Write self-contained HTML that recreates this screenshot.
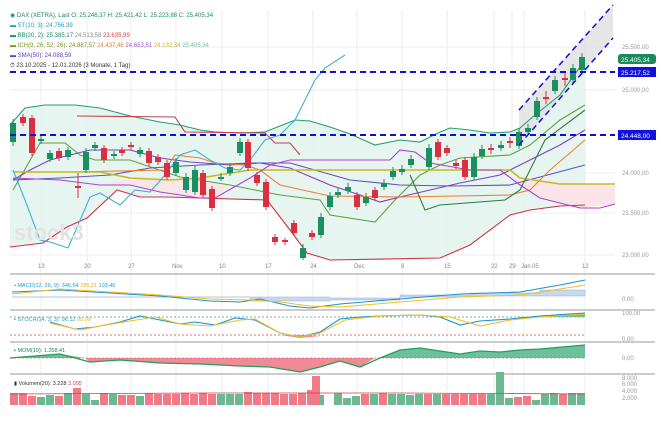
<!DOCTYPE html><html><head><meta charset="utf-8"><style>
body{margin:0;background:#fff}
svg text{font-family:"Liberation Sans",sans-serif}
</style></head><body>
<svg width="661" height="435" xmlns="http://www.w3.org/2000/svg">
<rect width="661" height="435" fill="#fff"/>
<g stroke="#ececec" stroke-width="1">
<path d="M41 10V405M87 10V405M131 10V405M176 10V405M222 10V405M268 10V405M313 10V405M357 10V405M402 10V405M447 10V405M494 10V405M512 10V405M524 10V405M585 10V405"/>
<path d="M10 47H615M10 90H615M10 173H615M10 213H615M10 255H615"/>
</g>
<polygon fill="#e3f3ee" opacity="0.85" points="10,125 25,108 45,105 75,105 100,108 130,116 160,122 180,125 200,130 215,132 240,133 265,132 280,126 295,120 310,121 330,127 350,134 375,145 400,140 420,142 440,132 450,128 470,130 490,133 510,132 520,128 535,115 560,95 585,60 585,205 560,206 530,210 510,215 470,245 440,258 330,260 307,253 290,230 267,200 200,198 167,197 140,197 117,190 87,218 67,227 43,243 10,247"/>
<polygon fill="#fbe4e8" opacity="0.9" points="100,185 130,185 160,192 200,198 215,198 230,185 200,180 130,178"/>
<polygon fill="#fbe4e8" points="510,180 615,185 615,204 580,208 540,198 520,185"/>
<polygon fill="#e2e2e2" opacity="0.85" points="519,110 613,5 613,38 519,145"/>
<g fill="none" stroke-width="1.1">
<polyline stroke="#20a070" points="10,125 25,108 45,105 75,105 100,108 130,116 160,122 180,125 200,130 215,132 240,133 265,132 280,126 295,120 310,121 330,127 350,134 375,145 400,140 420,142 440,132 450,128 470,130 490,133 510,132 520,128 535,115 560,95 585,60"/>
<polyline stroke="#d03040" points="10,247 43,243 67,227 87,218 117,190 140,197 167,197 200,198 267,200 290,230 307,253 330,260 440,258 470,245 510,215 530,210 560,206 585,205"/>
<polyline stroke="#c04050" points="77,116 175,117 185,132 265,133 275,143 290,143 300,155"/>
<polyline stroke="#60a040" points="13,190 40,143 65,143 80,155 95,160 130,160 180,177 230,185 280,195 320,200 330,215 375,222 395,200 420,175 440,165 460,158 510,155 530,145 560,120 585,105"/>
<polyline stroke="#8040c0" points="13,180 30,170 50,160 90,150 130,150 160,158 190,162 230,165 260,163 290,168 330,185 360,195 380,202 400,197 430,190 460,183 500,175 520,165 560,145 585,130"/>
<polyline stroke="#6050c0" points="13,180 60,178 110,175 150,168 200,165 250,163 290,163 350,180 400,185 450,186 510,185 585,165"/>
<polyline stroke="#f08030" points="13,172 70,172 165,170 175,155 200,158 215,163 245,165 260,170 280,185 330,196 400,197 510,195 530,190 550,170 585,140"/>
<polyline stroke="#c8b820" stroke-width="1.6" points="13,172 100,172 130,178 170,180 200,178 250,170 510,170 520,178 560,184 615,184"/>
<polyline stroke="#b040d0" points="13,178 60,180 100,185 130,185 160,192 200,198 215,198 250,178 270,165 290,160 310,160 390,160 400,150 415,152 430,163 470,170 500,170 520,185 540,198 580,208 600,208 615,204"/>
<polyline stroke="#40b0d0" points="13,170 25,200 40,240 50,242 68,248 78,225 90,197 100,193 120,205 135,190 150,192 165,175 180,155 195,150 210,160 225,168 240,170 250,160 265,140 280,135 295,120 305,100 315,80 325,68 345,55"/>
<polyline stroke="#307a40" points="410,175 425,210 440,205 505,200 520,190 545,140 585,110"/>
</g>
<g stroke-width="1">
<path stroke="#1a9060" d="M13 119V146M41 136V144M50 150V162M68 147V160M86 148V173M95 142V151M114 151V159M140 147V157M176 158V176M186 173V193M195 166V195M221 173V181M230 163V176M240 138V156M303 244V260M321 213V238M330 192V210M338 188V198M348 183V194M366 193V206M384 179V190M393 167V180M402 165V175M411 155V168M429 144V170M474 153V180M482 145V159M501 141V151M519 128V149M528 124V135M537 97V120M555 76V94M573 64V83M582 53V73"/>
<path stroke="#d83040" d="M23 114V126M32 115V156M59 148V161M78 173V198M104 145V163M122 147V156M131 142V150M149 148V166M158 154V165M167 160V180M203 170V198M212 186V211M248 139V171M257 172V186M266 179V210M275 234V245M285 238V245M294 220V236M312 230V240M357 192V210M375 187V201M438 139V160M447 145V156M456 160V169M465 157V180M491 144V154M510 137V148M546 91V104M565 72V86"/>
</g>
<g fill="#1a9060">
<rect x="10" y="123" width="6" height="19"/><rect x="38" y="139" width="6" height="2"/><rect x="47" y="153" width="6" height="6"/><rect x="65" y="150" width="6" height="7"/><rect x="83" y="152" width="6" height="18"/><rect x="92" y="145" width="6" height="3"/><rect x="111" y="154" width="6" height="2"/><rect x="137" y="150" width="6" height="4"/><rect x="173" y="162" width="6" height="11"/><rect x="183" y="177" width="6" height="13"/><rect x="192" y="170" width="6" height="22"/><rect x="218" y="177" width="6" height="2"/><rect x="227" y="167" width="6" height="6"/><rect x="237" y="142" width="6" height="11"/><rect x="300" y="248" width="6" height="10"/><rect x="318" y="217" width="6" height="18"/><rect x="327" y="196" width="6" height="11"/><rect x="335" y="192" width="6" height="3"/><rect x="345" y="187" width="6" height="4"/><rect x="363" y="197" width="6" height="6"/><rect x="381" y="183" width="6" height="4"/><rect x="390" y="171" width="6" height="6"/><rect x="399" y="169" width="6" height="3"/><rect x="408" y="159" width="6" height="6"/><rect x="426" y="148" width="6" height="19"/><rect x="471" y="157" width="6" height="20"/><rect x="479" y="149" width="6" height="7"/><rect x="498" y="145" width="6" height="3"/><rect x="516" y="132" width="6" height="14"/><rect x="525" y="128" width="6" height="4"/><rect x="534" y="101" width="6" height="16"/><rect x="552" y="80" width="6" height="11"/><rect x="570" y="68" width="6" height="12"/><rect x="579" y="57" width="6" height="13"/>
</g>
<g fill="#d83040">
<rect x="20" y="117" width="6" height="6"/><rect x="29" y="118" width="6" height="35"/><rect x="56" y="151" width="6" height="7"/><rect x="75" y="186" width="6" height="2"/><rect x="101" y="148" width="6" height="12"/><rect x="119" y="150" width="6" height="3"/><rect x="128" y="145" width="6" height="2"/><rect x="146" y="151" width="6" height="12"/><rect x="155" y="157" width="6" height="5"/><rect x="164" y="163" width="6" height="14"/><rect x="200" y="173" width="6" height="22"/><rect x="209" y="189" width="6" height="19"/><rect x="245" y="142" width="6" height="26"/><rect x="254" y="175" width="6" height="8"/><rect x="263" y="182" width="6" height="25"/><rect x="272" y="237" width="6" height="5"/><rect x="282" y="240" width="6" height="2"/><rect x="291" y="223" width="6" height="10"/><rect x="309" y="233" width="6" height="4"/><rect x="354" y="195" width="6" height="12"/><rect x="372" y="190" width="6" height="8"/><rect x="435" y="142" width="6" height="15"/><rect x="444" y="148" width="6" height="5"/><rect x="453" y="163" width="6" height="3"/><rect x="462" y="160" width="6" height="17"/><rect x="488" y="148" width="6" height="2"/><rect x="507" y="141" width="6" height="2"/><rect x="543" y="97" width="6" height="2"/><rect x="562" y="78" width="6" height="2"/>
</g>
<line x1="10" y1="72" x2="615" y2="72" stroke="#1010d0" stroke-width="2" stroke-dasharray="6,4"/>
<line x1="10" y1="135" x2="615" y2="135" stroke="#1010d0" stroke-width="2" stroke-dasharray="6,4"/>
<line x1="519" y1="110" x2="613" y2="5" stroke="#1010d0" stroke-width="1.5" stroke-dasharray="6,4"/>
<line x1="519" y1="145" x2="613" y2="38" stroke="#1010d0" stroke-width="1.5" stroke-dasharray="6,4"/>
<text x="14" y="240" font-size="22" fill="#e2e2e2" font-weight="bold">stock3</text>
<g font-size="6" fill="#666">
<text x="10" y="17" fill="#1a8a6a">◉ DAX (XETRA), Last  O: 25.246,37  H: 25.421,42  L: 25.223,88  C: 25.405,34</text>
<text x="10" y="27" fill="#1f9fc0">▬ ST(10, 3): 24.756,39</text>
<text x="10" y="37"><tspan fill="#1a8a6a">▬ BB(20, 2): 25.385,17</tspan> <tspan fill="#8a8a8a">24.513,58</tspan> <tspan fill="#d04050">23.635,99</tspan></text>
<text x="10" y="47"><tspan fill="#7a9a20">▬ ICH(9, 26, 52, 26): 24.887,57</tspan> <tspan fill="#f08020">24.437,46</tspan> <tspan fill="#a050d0">24.653,51</tspan> <tspan fill="#c0c020">24.132,34</tspan> <tspan fill="#70c0a0">25.405,34</tspan></text>
<text x="10" y="57" fill="#6040c0">▬ SMA(50): 24.088,59</text>
<text x="10" y="67" fill="#333">⏱ 23.10.2025 - 12.01.2026  (3 Monate, 1 Tag)</text>
</g>
<g font-size="6" fill="#999">
<text x="622" y="49">25.500,00</text><text x="622" y="92">25.000,00</text><text x="622" y="175">24.000,00</text><text x="622" y="215">23.500,00</text><text x="622" y="257">23.000,00</text>
<text x="622" y="301">0,00</text><text x="622" y="315">100,00</text><text x="622" y="341">0,00</text><text x="622" y="360">0,00</text>
<text x="622" y="380">8.000</text><text x="622" y="386">6.000</text><text x="622" y="393">4.000</text><text x="622" y="400">2.000</text>
</g>
<rect x="618" y="54" width="38" height="10" rx="3" fill="#1a8a5a"/><text x="621" y="62" font-size="6.5" fill="#fff">25.405,34</text>
<rect x="618" y="67" width="38" height="10" fill="#1010e0"/><text x="621" y="75" font-size="6.5" fill="#fff">25.217,52</text>
<rect x="618" y="130" width="38" height="10" fill="#1010e0"/><text x="621" y="138" font-size="6.5" fill="#fff">24.448,00</text>
<g font-size="6" fill="#888">
<text x="38" y="268">13</text><text x="84" y="268">20</text><text x="128" y="268">27</text><text x="172" y="268">Nov</text><text x="219" y="268">10</text><text x="265" y="268">17</text><text x="310" y="268">24</text><text x="354" y="268">Dec</text><text x="401" y="268">8</text><text x="444" y="268">15</text><text x="491" y="268">22</text><text x="509" y="268">29</text><text x="521" y="268">Jan</text><text x="532" y="268">05</text><text x="582" y="268">12</text>
</g>
<g stroke="#ccc" stroke-width="2"><line x1="10" y1="274" x2="655" y2="274"/><line x1="10" y1="310" x2="655" y2="310"/><line x1="10" y1="342" x2="655" y2="342"/><line x1="10" y1="374" x2="655" y2="374"/></g>
<path fill="#c8d8ee" stroke="#9ab0d0" stroke-width="0.5" d="M12 297H250V301H330V300H400V297H470V296H585V290H540V293H470V295H400V298H330V297H12Z"/>
<g fill="none" stroke-width="1.1">
<polyline stroke="#2090d0" points="12,292 60,290 110,293 160,296 210,301 240,302 260,299 290,306 310,308 340,304 400,299 460,294 520,292 560,285 585,280"/>
<polyline stroke="#f0c020" points="12,294 60,289 110,292 160,295 210,299 250,300 280,302 310,306 340,307 400,302 460,297 520,295 560,289 585,285"/>
<polyline stroke="#40a080" stroke-width="0.8" stroke-dasharray="2,2" points="10,317 585,317"/>
<polyline stroke="#d04040" stroke-width="0.8" stroke-dasharray="2,2" points="10,335 585,335"/>
</g>
<polygon fill="#6cc19a" points="520,318 560,314 585,313 585,317 520,317"/>
<polygon fill="#f08a96" points="280,335 300,338 320,336 300,335"/>
<g fill="none" stroke-width="1.1">
<polyline stroke="#2090d0" points="50,322 75,329 95,327 120,322 140,316 155,319 180,324 195,322 215,325 235,318 255,320 280,333 300,337 320,332 340,319 360,317 380,316 420,315 440,317 460,325 480,321 510,319 540,316 585,313"/>
<polyline stroke="#f0c020" points="50,323 80,330 100,326 130,321 155,317 180,324 210,326 240,320 255,319 280,333 300,337 320,333 345,320 380,316 420,315 450,317 480,326 510,320 540,317 585,314"/>
</g>
<polygon fill="#6cc19a" points="10,358 60,354 85,358 380,358 400,350 420,348 440,351 460,354 480,351 500,352 520,350 540,349 585,345 585,358"/>
<polygon fill="#f08a96" points="85,358 90,362 120,360 160,363 200,364 240,366 270,367 300,372 320,367 340,361 360,367 375,358"/>
<polyline fill="none" stroke="#20a060" stroke-width="1.3" points="10,358 60,354 90,362 120,360 160,363 200,364 240,366 270,367 300,372 320,367 340,361 360,367 380,358 400,350 420,348 440,351 460,354 480,351 500,352 520,350 540,349 585,345"/>
<line x1="10" y1="358" x2="585" y2="358" stroke="#c04040" stroke-width="0.6" stroke-dasharray="2,2"/>
<g font-size="5.5">
<text x="14" y="287" fill="#1f9fd0">▪ MACD(12, 26, 9): 346,54 <tspan fill="#e0b020">285,31</tspan> 103,46</text>
<text x="14" y="321" fill="#1f9fd0">▪ STOCH(14, 3, 3): 96,12 <tspan fill="#e0b020">95,09</tspan></text>
<text x="14" y="352" fill="#1a8a5a">▪ MOM(10): 1.258,41</text>
<text x="14" y="385" fill="#333">▮ Volumen(20): 3.228 <tspan fill="#d04050">3.095</tspan></text>
</g>
<g fill="#6cb890">
<rect x="37" y="397" width="8" height="8"/><rect x="46" y="395" width="8" height="10"/><rect x="64" y="393" width="8" height="12"/><rect x="82" y="394" width="8" height="11"/><rect x="91" y="400" width="8" height="5"/><rect x="109" y="394" width="8" height="11"/><rect x="136" y="396" width="8" height="9"/><rect x="217" y="394" width="8" height="11"/><rect x="226" y="394" width="8" height="11"/><rect x="235" y="394" width="8" height="11"/><rect x="316" y="395" width="8" height="10"/><rect x="334" y="393" width="8" height="12"/><rect x="343" y="398" width="8" height="7"/><rect x="352" y="396" width="8" height="9"/><rect x="370" y="394" width="8" height="11"/><rect x="388" y="394" width="8" height="11"/><rect x="397" y="394" width="8" height="11"/><rect x="406" y="395" width="8" height="10"/><rect x="415" y="394" width="8" height="11"/><rect x="433" y="394" width="8" height="11"/><rect x="487" y="394" width="8" height="11"/><rect x="496" y="372" width="8" height="33"/><rect x="505" y="398" width="8" height="7"/><rect x="532" y="400" width="8" height="5"/><rect x="541" y="394" width="8" height="11"/><rect x="550" y="393" width="8" height="12"/><rect x="568" y="393" width="8" height="12"/><rect x="577" y="393" width="8" height="12"/>
</g>
<g fill="#f07a88">
<rect x="10" y="393" width="8" height="12"/><rect x="19" y="393" width="8" height="12"/><rect x="73" y="388" width="8" height="17"/><rect x="100" y="393" width="8" height="12"/><rect x="118" y="395" width="8" height="10"/><rect x="127" y="395" width="8" height="10"/><rect x="145" y="393" width="8" height="12"/><rect x="154" y="394" width="8" height="11"/><rect x="163" y="394" width="8" height="11"/><rect x="172" y="394" width="8" height="11"/><rect x="181" y="393" width="8" height="12"/><rect x="190" y="394" width="8" height="11"/><rect x="199" y="393" width="8" height="12"/><rect x="208" y="394" width="8" height="11"/><rect x="244" y="392" width="8" height="13"/><rect x="253" y="393" width="8" height="12"/><rect x="262" y="393" width="8" height="12"/><rect x="271" y="393" width="8" height="12"/><rect x="280" y="394" width="8" height="11"/><rect x="289" y="394" width="8" height="11"/><rect x="298" y="393" width="8" height="12"/><rect x="307" y="390" width="8" height="15"/><rect x="312" y="376" width="8" height="29"/><rect x="361" y="394" width="8" height="11"/><rect x="379" y="393" width="8" height="12"/><rect x="424" y="394" width="8" height="11"/><rect x="442" y="394" width="8" height="11"/><rect x="451" y="394" width="8" height="11"/><rect x="460" y="394" width="8" height="11"/><rect x="469" y="394" width="8" height="11"/><rect x="478" y="394" width="8" height="11"/><rect x="514" y="397" width="8" height="8"/><rect x="523" y="396" width="8" height="9"/><rect x="559" y="394" width="8" height="11"/><rect x="28" y="396" width="8" height="9"/><rect x="55" y="396" width="8" height="9"/>
</g>
<polyline fill="none" stroke="#d04040" stroke-width="0.8" points="10,394 200,393 400,393 585,394"/>
</svg>
</body></html>
